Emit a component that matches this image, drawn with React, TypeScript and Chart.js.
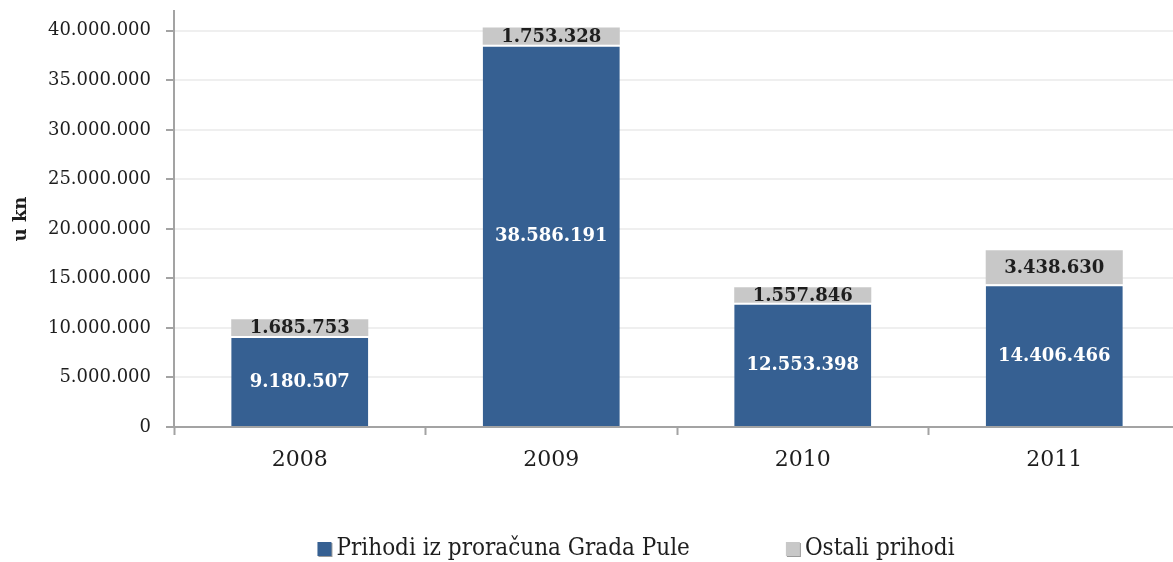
import React, { useEffect, useRef } from 'react';
import { Chart, registerables } from 'chart.js';

Chart.register(...registerables);

const categories = ['2008', '2009', '2010', '2011'];
const prihodiGrada = [9180507, 38586191, 12553398, 14406466];
const ostaliPrihodi = [1685753, 1753328, 1557846, 3438630];
const seriesNames = ['Prihodi iz proračuna Grada Pule', 'Ostali prihodi'];
const yTickValues = [0, 5000000, 10000000, 15000000, 20000000, 25000000, 30000000, 35000000, 40000000];
const yAxisTitle = 'u kn';

const BLUE = '#366092';
const GRAY = '#c8c8c8';
const AXIS = '#a3a3a3';
const SERIF = '"DejaVu Serif", serif';
const SERIF_COND = '"DejaVu Serif Condensed", "DejaVu Serif", serif';

const fmt = (v: number) => String(Math.round(v)).replace(/\B(?=(\d{3})+(?!\d))/g, '.');

const labelPlugin = {
  id: 'segLabels',
  afterDatasetsDraw(chart: any) {
    const ctx = chart.ctx;
    ctx.save();
    ctx.font = 'bold 18px ' + SERIF;
    ctx.textAlign = 'center';
    ctx.textBaseline = 'middle';
    chart.data.datasets.forEach((ds: any, di: number) => {
      const meta = chart.getDatasetMeta(di);
      meta.data.forEach((bar: any, i: number) => {
        const cy = (bar.y + bar.base) / 2;
        ctx.fillStyle = di === 0 ? '#ffffff' : '#1e1e1e';
        ctx.fillText(fmt(ds.data[i]), bar.x, cy + 1);
      });
    });
    ctx.restore();
  },
};

const legendPlugin = {
  id: 'customLegend',
  afterDraw(chart: any, _args: any, opts: any) {
    const ctx = chart.ctx;
    ctx.save();
    ctx.font = opts.font;
    ctx.textBaseline = 'middle';
    const box = 14;
    const gap = 5;
    const items = chart.data.datasets.map((ds: any) => ({
      text: ds.label,
      color: ds.backgroundColor,
      w: box + gap + ctx.measureText(ds.label).width,
    }));
    const total = items.reduce((s: number, it: any) => s + it.w, 0) + opts.spacing * (items.length - 1);
    let x = opts.centerX - total / 2;
    const y = opts.y;
    items.forEach((it: any) => {
      ctx.fillStyle = '#9a9a9a';
      ctx.fillRect(x + 1, y - box / 2 + 1, box, box);
      ctx.fillStyle = it.color;
      ctx.fillRect(x, y - box / 2, box, box);
      ctx.fillStyle = '#1e1e1e';
      ctx.textAlign = 'left';
      ctx.fillText(it.text, x + box + gap, y);
      x += it.w + opts.spacing;
    });
    ctx.restore();
  },
};

export default function App() {
  const ref = useRef<HTMLCanvasElement | null>(null);
  useEffect(() => {
    if (!ref.current) return;
    const chart = new Chart(ref.current, {
      type: 'bar',
      data: {
        labels: categories,
        datasets: [
          {
            label: seriesNames[0],
            data: prihodiGrada,
            backgroundColor: BLUE,
            borderColor: '#ffffff',
            borderWidth: { top: 2, left: 0, right: 0, bottom: 0 },
            borderSkipped: false,
            barPercentage: 0.545,
            categoryPercentage: 1,
          },
          {
            label: seriesNames[1],
            data: ostaliPrihodi,
            backgroundColor: GRAY,
            borderWidth: 0,
            barPercentage: 0.545,
            categoryPercentage: 1,
          },
        ],
      },
      options: {
        animation: false,
        responsive: true,
        maintainAspectRatio: false,
        layout: { padding: { top: 11, right: 5, bottom: 85, left: 0 } },
        plugins: {
          legend: { display: false },
          tooltip: { enabled: false },
          customLegend: { font: '24px ' + SERIF_COND, spacing: 96, centerX: 636, y: 549 },
        } as any,
        scales: {
          x: {
            stacked: true,
            border: { display: true, color: AXIS, width: 2 },
            grid: { display: true, drawOnChartArea: false, offset: true, tickColor: AXIS, tickLength: 8, tickWidth: 2 },
            ticks: { color: '#1e1e1e', font: { family: SERIF, size: 22 }, padding: 12 },
            afterFit: (s: any) => { s.height = 50; s.paddingLeft = 0; s.paddingRight = 0; },
          },
          y: {
            stacked: true,
            min: 0,
            max: 42000000,
            border: { display: true, color: AXIS, width: 2 },
            grid: { color: '#efefef', lineWidth: 2, tickColor: AXIS, tickLength: 8, tickWidth: 2 },
            afterBuildTicks: (s: any) => { s.ticks = yTickValues.map((v) => ({ value: v })); },
            ticks: {
              color: '#1e1e1e',
              font: { family: SERIF, size: 18 },
              padding: 15,
              callback: (v: any) => fmt(Number(v)),
            },
            title: {
              display: true,
              text: yAxisTitle,
              color: '#1e1e1e',
              font: { family: SERIF, size: 18, weight: 'bold' },
              padding: { top: 11, bottom: 0 },
            },
            afterFit: (s: any) => { s.width = 174; s.paddingTop = 0; s.paddingBottom = 0; },
          },
        },
      },
      plugins: [labelPlugin, legendPlugin],
    });
    return () => chart.destroy();
  }, []);
  return (
    <div style={{ position: 'fixed', left: 0, top: 0, width: 1173, height: 562, overflow: 'hidden', background: '#fff' }}>
      <div style={{ width: 1185, height: 562, position: 'relative' }}>
        <canvas ref={ref} />
      </div>
    </div>
  );
}
